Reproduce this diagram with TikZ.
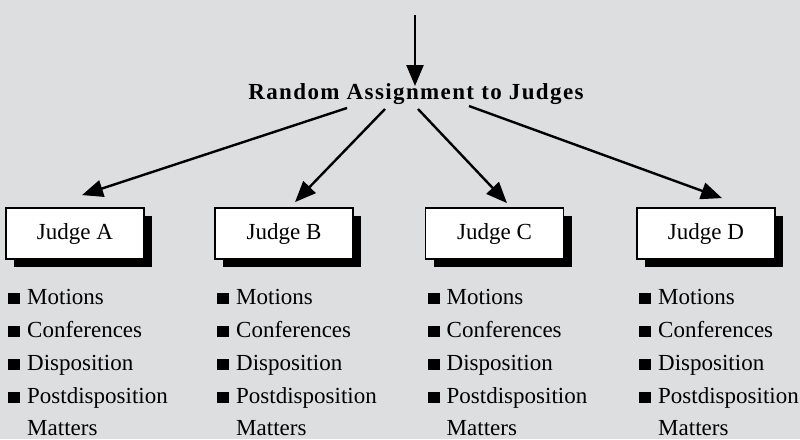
\documentclass[tikz,border=0pt]{standalone}
\usepackage{fontspec}
\setmainfont{Liberation Serif}
\usetikzlibrary{arrows.meta,calc,shadows}
\definecolor{bg}{RGB}{221,222,224}
\newcommand{\bsq}{\makebox[19pt][l]{\rule{12pt}{11pt}}}
\begin{document}
\begin{tikzpicture}[x=1pt,y=-1pt,
  judgebox/.style={draw, line width=1.8pt, fill=white, minimum width=138pt, minimum height=51pt, inner sep=0pt,
    font=\fontsize{23}{27}\selectfont,
    drop shadow={shadow xshift=8pt, shadow yshift=-8pt, fill=black, opacity=1}},
  listitem/.style={anchor=base west, inner sep=0pt, font=\fontsize{23}{27}\selectfont},
  titlestyle/.style={anchor=base, inner sep=0pt, font=\fontsize{23}{27}\selectfont\addfontfeature{LetterSpace=6}\bfseries},
  arr/.style={line width=2.4pt, -{Triangle[length=21pt,width=17pt]}}]
\fill[bg] (0,0) rectangle (800,439);
\useasboundingbox (0,0) rectangle (800,439);
\coordinate (src) at (415,15);
\node[titlestyle] (title) at (416,99) {Random Assignment to Judges};
\foreach \n/\x in {A/75,B/284,C/494.5,D/706} {
  \node[judgebox] (j\n) at (\x,233.5) {Judge \n};
  \foreach \t [count=\i] in {Motions,Conferences,Disposition,Postdisposition} {
    \node[listitem] (l\n\i) at (\x-67,271+33*\i) {\bsq\t};
  }
  \node[listitem] (l\n5) at (\x-48,435) {Matters};
}
\draw[arr] (src) -- ($(title.base)+(-1,-13)$);
\draw[arr] ($(title.base)+(-69,9)$) -- ($(jA.north)+(7,-12)$);
\draw[arr] ($(title.base)+(-31,10)$) -- ($(jB.north)+(11,-5)$);
\draw[arr] ($(title.base)+(2,10)$) -- ($(jC.north)+(12.5,-4)$);
\draw[arr] ($(title.base)+(53,7)$) -- ($(jD.north)+(16,-9)$);
\end{tikzpicture}
\end{document}
